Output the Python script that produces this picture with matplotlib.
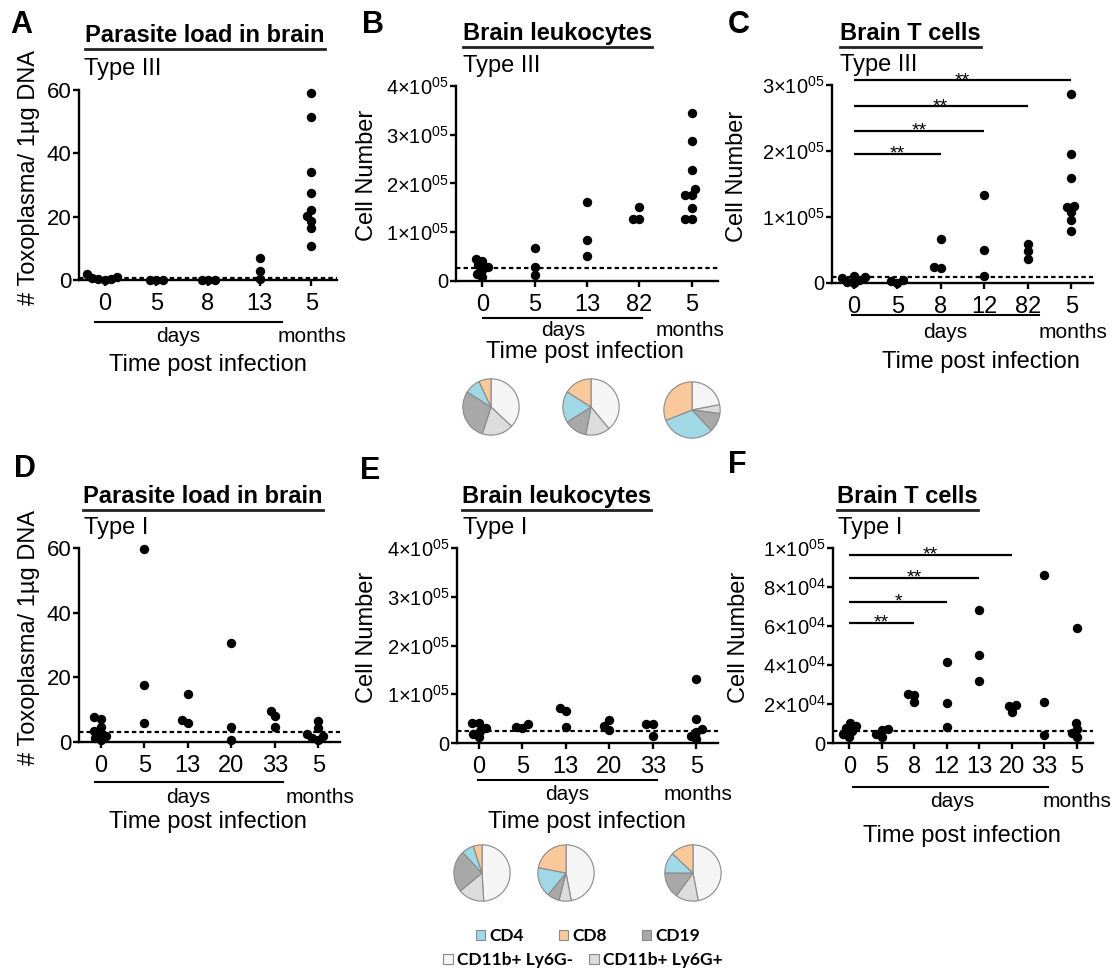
import matplotlib
matplotlib.use('Agg')
import matplotlib.pyplot as plt
import numpy as np
from matplotlib.lines import Line2D
from matplotlib.patches import Patch

plt.rcParams['font.family'] = ['Liberation Sans', 'DejaVu Sans']
plt.rcParams['mathtext.fontset'] = 'custom'
plt.rcParams['mathtext.rm'] = 'Liberation Sans'
plt.rcParams['mathtext.it'] = 'Liberation Sans:italic'
plt.rcParams['mathtext.bf'] = 'Liberation Sans:bold'

# ---------------- data ----------------
# A: parasite load, type III
a_labels = ['0', '5', '8', '13', '5']
a_values = [
    [0.0, 0.2, 0.5, 0.3, 1.0, 1.8],
    [0.0, 0.0, 0.0],
    [0.0, 0.0, 0.0],
    [0.3, 6.8, 2.7],
    [59.0, 51.4, 34.0, 27.4, 22.1, 20.2, 18.6, 16.5, 10.7],
]
a_base = 0.5

# B: brain leukocytes, type III (x1e5)
b_labels = ['0', '5', '13', '82', '5']
b_values = [
    [0.45, 0.42, 0.32, 0.28, 0.22, 0.15, 0.08],
    [0.12, 0.68, 0.29],
    [1.62, 0.84, 0.52],
    [1.52, 1.27, 1.27],
    [3.44, 2.87, 2.28, 1.88, 1.77, 1.76, 1.49, 1.27, 1.27],
]
b_base = 0.27

# C: brain T cells, type III (x1e5)
c_labels = ['0', '5', '8', '12', '82', '5']
c_values = [
    [0.10, 0.09, 0.07, 0.05, 0.02, 0.0],
    [0.04, 0.0, 0.03],
    [0.23, 0.67, 0.24],
    [1.34, 0.50, 0.10],
    [0.37, 0.59, 0.48],
    [2.87, 1.95, 1.59, 1.15, 1.17, 1.07, 0.96, 0.79],
]
c_base = 0.09
c_sig_end = [2, 3, 4, 5]
c_sig_y = [1.955, 2.31, 2.68, 3.07]
c_sig_txt = ['**', '**', '**', '**']

# D: parasite load, type I
d_labels = ['0', '5', '13', '20', '33', '5']
d_values = [
    [7.7, 7.2, 4.6, 3.4, 2.6, 1.8, 1.2, 0.6],
    [59.7, 17.7, 5.9],
    [5.9, 14.8, 6.9],
    [0.5, 30.6, 4.6],
    [4.6, 9.5, 7.9],
    [6.6, 4.3, 2.4, 1.8, 1.2, 0.6],
]
d_base = 3.1

# E: brain leukocytes, type I (x1e5)
e_labels = ['0', '5', '13', '20', '33', '5']
e_values = [
    [0.41, 0.42, 0.30, 0.25, 0.19, 0.12],
    [0.38, 0.32, 0.31],
    [0.72, 0.32, 0.65],
    [0.47, 0.27, 0.34],
    [0.40, 0.14, 0.38],
    [1.31, 0.50, 0.28, 0.22, 0.15, 0.08],
]
e_base = 0.25

# F: brain T cells, type I (x1e3)
f_labels = ['0', '5', '8', '12', '13', '20', '33', '5']
f_values = [
    [10.3, 8.8, 7.5, 6.0, 4.5, 3.0],
    [7.0, 6.8, 4.5, 3.0],
    [25.0, 24.5, 21.0],
    [41.5, 20.5, 8.2],
    [68.4, 45.3, 31.6],
    [19.7, 18.8, 15.7],
    [86.3, 21.0, 4.3],
    [59.0, 10.3, 7.0, 5.0, 3.0],
]
f_base = 6.0
f_sig_end = [2, 3, 4, 5]
f_sig_y = [61.5, 72.3, 84.6, 96.4]
f_sig_txt = ['**', '*', '**', '**']

# pie fractions: CD11b+Ly6G-, CD11b+Ly6G+, CD19, CD4, CD8 (clockwise from 12 o'clock)
pie_names = ['CD11b+ Ly6G-', 'CD11b+ Ly6G+', 'CD19', 'CD4', 'CD8']
pie_colors = ['#f5f5f5', '#dcdcdc', '#a8a8a8', '#a0d8e6', '#f9c89b']
pies_top = [[37, 18, 29, 9, 7], [39, 14, 13, 18, 16], [22, 5, 11, 31, 31]]
pies_bottom = [[49, 15, 24, 7, 5], [47, 7, 7, 17, 22], [47, 13, 15, 12, 13]]

# ---------------- figure ----------------
W, H = 1117, 971
fig = plt.figure(figsize=(W / 100, H / 100), dpi=100)
fig.patch.set_facecolor('white')


def px(x, y):
    return x / W, 1 - y / H


def rect(l, t, r, b):
    return [l / W, 1 - b / H, (r - l) / W, (b - t) / H]


def swarm(ys, d):
    # simple beeswarm in display pixels, allowing partial overlap
    xs = np.zeros(len(ys))
    placed = []
    for i in np.argsort(ys, kind='stable'):
        y = ys[i]
        cands = [0.0]
        for (qx, qy) in placed:
            dy = abs(qy - y)
            if dy < d:
                dx = np.sqrt(d * d - dy * dy)
                cands += [qx - dx, qx + dx]
        best = 0.0
        for c in sorted(cands, key=lambda v: (abs(v), v)):
            if all((c - qx) ** 2 + (y - qy) ** 2 >= d * d - 1e-6 for qx, qy in placed):
                best = c
                break
        xs[i] = best
        placed.append((best, y))
    return xs


def panel(box, labels, groups, scale, ymax, yticks, yticklabels, base, ytick_fs):
    ax = fig.add_axes(box)
    ax.set_facecolor('none')
    n = len(labels)
    ax.set_xlim(-0.5, n - 0.5)
    ax.set_ylim(0, ymax)
    for s in ['top', 'right']:
        ax.spines[s].set_visible(False)
    for s in ['left', 'bottom']:
        ax.spines[s].set_linewidth(1.7)
    ax.set_xticks(range(n), labels, fontsize=17)
    ax.set_yticks(yticks, yticklabels, fontsize=ytick_fs)
    ax.tick_params(axis='x', length=4.5, width=1.7, pad=5)
    ax.tick_params(axis='y', length=4.5, width=1.7, pad=1)
    ax.axhline(base * scale, color='black', lw=1.6, ls=(0, (2, 1.4)), zorder=1)
    for i, vals in enumerate(groups):
        v = np.asarray(vals, dtype=float) * scale
        pts = ax.transData.transform(np.column_stack([np.full(len(v), i), v]))
        pts[:, 0] += swarm(pts[:, 1], 6.5)
        dat = ax.transData.inverted().transform(pts)
        ax.scatter(dat[:, 0], dat[:, 1], s=46, color='black', linewidths=0,
                   clip_on=False, zorder=3)
    return ax


def sig(ax, ends, ys, txts, scale):
    for e, y, t in zip(ends, ys, txts):
        ax.plot([0, e], [y * scale, y * scale], color='black', lw=1.6,
                clip_on=False, solid_capstyle='butt')
        ax.annotate(t, (e / 2, y * scale), xytext=(0, -3.5), textcoords='offset points',
                    ha='center', va='baseline', fontsize=14, annotation_clip=False)


def sci(m, e):
    return r'$%d{\times}10^{%s}$' % (m, e)


ax_a = panel(rect(79, 90, 337, 280), a_labels, a_values, 1, 60,
             [0, 20, 40, 60], ['0', '20', '40', '60'], a_base, 16)
ax_b = panel(rect(456, 86, 718, 281), b_labels, b_values, 1e5, 4e5,
             [0, 1e5, 2e5, 3e5, 4e5], ['0'] + [sci(k, '05') for k in range(1, 5)], b_base, 14.5)
ax_c = panel(rect(832, 85, 1093, 283), c_labels, c_values, 1e5, 3e5,
             [0, 1e5, 2e5, 3e5], ['0'] + [sci(k, '05') for k in range(1, 4)], c_base, 14.5)
ax_d = panel(rect(79, 548, 340, 742), d_labels, d_values, 1, 60,
             [0, 20, 40, 60], ['0', '20', '40', '60'], d_base, 16)
ax_e = panel(rect(457, 548, 718, 743), e_labels, e_values, 1e5, 4e5,
             [0, 1e5, 2e5, 3e5, 4e5], ['0'] + [sci(k, '05') for k in range(1, 5)], e_base, 14.5)
ax_f = panel(rect(833, 548, 1093, 743), f_labels, f_values, 1e3, 1e5,
             [0, 2e4, 4e4, 6e4, 8e4, 1e5],
             ['0'] + [sci(k, '04') for k in (2, 4, 6, 8)] + [sci(1, '05')], f_base, 14.5)

sig(ax_c, c_sig_end, c_sig_y, c_sig_txt, 1e5)
sig(ax_f, f_sig_end, f_sig_y, f_sig_txt, 1e3)

# y labels
for ax, txt, xr in [(ax_a, '# Toxoplasma/ 1µg DNA', 40), (ax_d, '# Toxoplasma/ 1µg DNA', 40),
                    (ax_b, 'Cell Number', 378), (ax_e, 'Cell Number', 378),
                    (ax_c, 'Cell Number', 748), (ax_f, 'Cell Number', 750)]:
    ax.set_ylabel(txt, fontsize=17)
    bb = ax.get_position()
    ax.yaxis.set_label_coords((xr / W - bb.x0) / bb.width, 0.54)

# panel letters, titles, subtitles
letters = [('A', 10, 33), ('B', 362, 33), ('C', 728, 33),
           ('D', 14, 477), ('E', 360, 479), ('F', 728, 473)]
for s, x, y in letters:
    fig.text(*px(x, y), s, fontsize=22, fontweight='bold', va='baseline')

titles = [('Parasite load in brain', 85, 42), ('Brain leukocytes', 463, 40),
          ('Brain T cells', 840, 40), ('Parasite load in brain', 83, 503),
          ('Brain leukocytes', 462, 503), ('Brain T cells', 837, 503)]
title_artists = []
for s, x, y in titles:
    t = fig.text(*px(x, y), s, fontsize=17, fontweight='bold', va='baseline')
    title_artists.append((t, y))

subs = [('Type III', 84, 75), ('Type III', 463, 72), ('Type III', 840, 71),
        ('Type I', 84, 534), ('Type I', 463, 534), ('Type I', 838, 534)]
for s, x, y in subs:
    fig.text(*px(x, y), s, fontsize=17, va='baseline')

# day/month annotations
spans = [(95, 282, 322), (483, 642, 318), (852, 1039, 315),
         (95, 283, 782), (478, 657, 780), (853, 1048, 787)]
for x0, x1, y in spans:
    fig.add_artist(Line2D([x0 / W, x1 / W], [1 - y / H] * 2, color='black', lw=1.5,
                          transform=fig.transFigure))
units = [(178, 312, 337), (563, 690, 330), (945, 1073, 332),
         (188, 320, 797), (567, 698, 794), (952, 1077, 801)]
for xd, xm, y in units:
    fig.text(*px(xd, y), 'days', fontsize=15, ha='center', va='center')
    fig.text(*px(xm, y), 'months', fontsize=15, ha='center', va='center')

xlabels = [(208, 365), (585, 352), (981, 362), (208, 822), (587, 822), (962, 836)]
for x, y in xlabels:
    fig.text(*px(x, y), 'Time post infection', fontsize=17, ha='center', va='center')

# underlines for titles
fig.canvas.draw()
r = fig.canvas.get_renderer()
for t, y in title_artists:
    bb = t.get_window_extent(r)
    yy = (H - y - 7) / H
    fig.add_artist(Line2D([bb.x0 / W, bb.x1 / W], [yy, yy], color='#222222', lw=2.0,
                          transform=fig.transFigure))

# pies
pie_pos_top = [(491, 407), (591, 407), (692, 410)]
pie_pos_bottom = [(482, 873), (566, 873), (693, 873)]
for fracs_list, pos_list in [(pies_top, pie_pos_top), (pies_bottom, pie_pos_bottom)]:
    for fr, (cx, cy) in zip(fracs_list, pos_list):
        rr = 29
        pax = fig.add_axes(rect(cx - rr, cy - rr, cx + rr, cy + rr))
        pax.pie(fr, colors=pie_colors, startangle=90, counterclock=False,
                wedgeprops=dict(edgecolor='#8a8a8a', linewidth=0.8))
        pax.set_xlim(-1.03, 1.03)
        pax.set_ylim(-1.03, 1.03)
        pax.set_aspect('equal')

# legend
handles = {n: Patch(facecolor=c, edgecolor='#8a8a8a', linewidth=0.8)
           for n, c in zip(pie_names, pie_colors)}
row1 = ['CD4', 'CD8', 'CD19']
row2 = ['CD11b+ Ly6G-', 'CD11b+ Ly6G+']
leg_kw = dict(frameon=False, handlelength=0.55, handleheight=0.55, handletextpad=0.25,
              prop=dict(family=['Lato', 'DejaVu Sans'], weight='bold', size=12.5),
              loc='center', borderaxespad=0, borderpad=0)
l1 = fig.legend([handles[n] for n in row1], row1, ncol=3, columnspacing=2.0,
                bbox_to_anchor=px(588, 936), **leg_kw)
l2 = fig.legend([handles[n] for n in row2], row2, ncol=2, columnspacing=0.9,
                bbox_to_anchor=px(583, 960), **leg_kw)

fig.savefig('out.png', dpi=100, facecolor='white')
